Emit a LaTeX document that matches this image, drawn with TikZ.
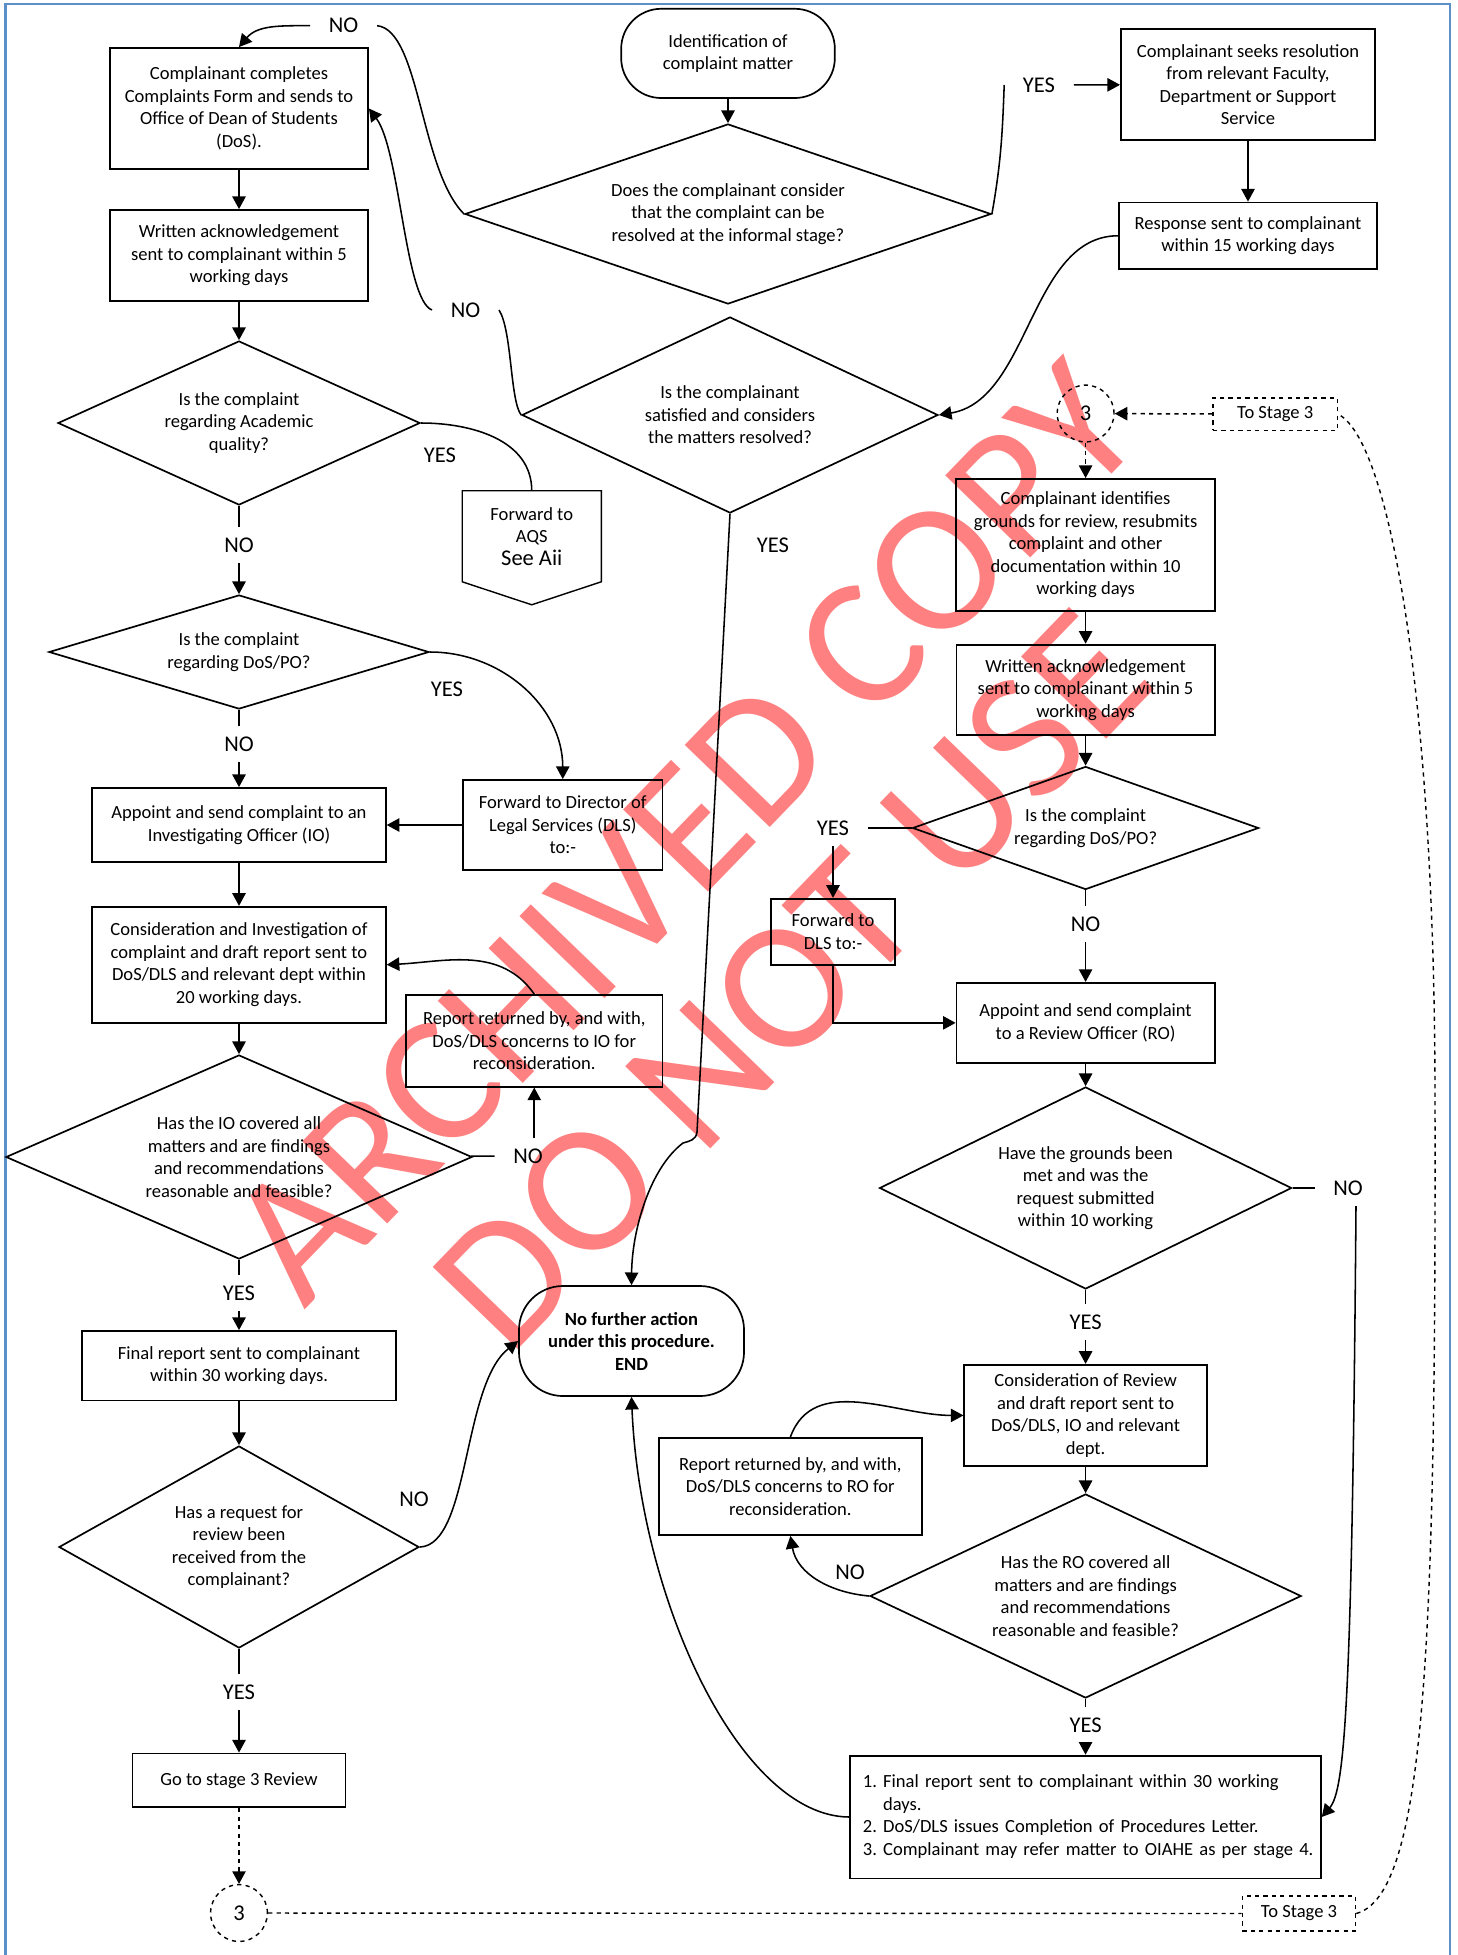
\documentclass[tikz,border=0pt]{standalone}
\usepackage{fontspec}
\setmainfont{Carlito}
\usetikzlibrary{arrows.meta, shapes.geometric}

\definecolor{frameblue}{RGB}{91,143,201}
\definecolor{stamp}{RGB}{255,128,128}

\begin{document}
\begin{tikzpicture}[x=0.025cm, y=-0.025cm,
				>={Triangle[length=9pt,width=9.5pt]},
				line width=1.1pt,
				font=\fontsize{13.2}{16}\selectfont,
				box/.style={draw, line width=1.3pt, align=center, inner sep=0pt},
				dec/.style={draw, shape=diamond, line width=1.2pt, align=center, inner sep=0pt},
				term/.style={draw, line width=1.2pt, align=center, inner sep=0pt, rounded corners=1cm},
				lbl/.style={font=\fontsize{16}{19}\selectfont, inner xsep=0.45cm, inner ysep=0.25cm},
				conn/.style={draw, dashed, circle, line width=1pt, inner sep=0pt, minimum size=1.42cm, font=\fontsize{16}{19}\selectfont},
				stagebox/.style={draw, dashed, line width=1pt, inner sep=0pt}]

				\useasboundingbox (0,0) rectangle (1458,1955);

				\node[text=stamp, rotate=46, font=\fontsize{131}{131}\selectfont] (stamp1) at (684,832) {ARCHIVED COPY};
				\node[text=stamp, rotate=46, font=\fontsize{131}{131}\selectfont] (stamp2) at (792,980) {DO NOT USE};

				\draw[frameblue, line width=1.5pt] (5.5,1955) -- (5.5,4) -- (1450,4) -- (1450,1955);

				\node[term, minimum width=5.34cm, minimum height=2.23cm] (start) at (728,53.4) {Identification of\\complaint matter};
				\node[dec, aspect=2.92, minimum width=13.15cm, minimum height=4.5cm] (informal) at (728,214) {Does the complainant consider\\that the complaint can be\\resolved at the informal stage?};
				\node[box, minimum width=6.35cm, minimum height=2.775cm] (seek) at (1248,84.5) {Complainant seeks resolution\\from relevant Faculty,\\Department or Support\\Service};
				\node[box, minimum width=6.45cm, minimum height=1.66cm] (resp) at (1248,235.75) {Response sent to complainant\\within 15 working days};
				\node[dec, aspect=2.12, minimum width=10.4cm, minimum height=4.9cm] (satisfied) at (730,415) {Is the complainant\\satisfied and considers\\the matters resolved?};

				\node[box, minimum width=6.45cm, minimum height=3.025cm] (form) at (239,108.5) {Complainant completes\\Complaints Form and sends to\\Office of Dean of Students\\(DoS).};
				\node[box, minimum width=6.45cm, minimum height=2.275cm] (ack) at (239,255.5) {Written acknowledgement\\sent to complainant within 5\\working days};
				\node[dec, aspect=2.2, minimum width=9.05cm, minimum height=4.1cm] (academic) at (239,423) {Is the complaint\\regarding Academic\\quality?};
				\node[minimum width=3.4375cm, minimum height=2.2375cm, align=center, inner sep=0pt] (aqs) at (531.75,536.25) {Forward to\\AQS\\{\fontsize{16}{19}\selectfont See Aii}};
				\draw[line width=1pt] (aqs.north west) -- (aqs.north east) -- (aqs.south east) -- ([yshift=-0.575cm]aqs.south) -- (aqs.south west) -- cycle;
				\node[dec, aspect=3.33, minimum width=9.5cm, minimum height=2.85cm] (dospo) at (239,652) {Is the complaint\\regarding DoS/PO?};
				\node[box, minimum width=7.3375cm, minimum height=1.85cm] (appoint) at (239,825) {Appoint and send complaint to an\\Investigating Officer (IO)};
				\node[box, minimum width=4.99cm, minimum height=2.25cm] (dls) at (562.75,825) {Forward to Director of\\Legal Services (DLS)\\to:-};
				\node[box, minimum width=7.3375cm, minimum height=2.9cm] (invest) at (239,964.75) {Consideration and Investigation of\\complaint and draft report sent to\\DoS/DLS and relevant dept within\\20 working days.};
				\node[box, minimum width=6.4125cm, minimum height=2.29cm] (retio) at (534.25,1040.8) {Report returned by, and with,\\DoS/DLS concerns to IO for\\reconsideration.};
				\node[dec, aspect=2.28, minimum width=11.65cm, minimum height=5.1cm] (iocheck) at (239,1157) {Has the IO covered all\\matters and are findings\\and recommendations\\reasonable and feasible?};
				\node[box, minimum width=7.85cm, minimum height=1.7375cm] (final) at (239,1365.75) {Final report sent to complainant\\within 30 working days.};
				\node[dec, aspect=1.78, minimum width=9cm, minimum height=5.05cm] (request) at (239,1547) {Has a request for\\review been\\received from the\\complainant?};
				\node[box, minimum width=5.32cm, minimum height=1.345cm] (gostage) at (239,1780.4) {Go to stage 3 Review};
				\node[conn] (cirl) at (239,1913) {3};
				\node[stagebox, minimum width=2.83cm, minimum height=0.875cm] (stagel) at (1299,1913.5) {To Stage 3};

				\node[term, rounded corners=1.1cm, minimum width=5.625cm, minimum height=2.75cm, font=\fontsize{13.2}{16}\selectfont\bfseries] (stop) at (631.5,1341) {No further action\\under this procedure.\\END};

				\node[conn] (cirr) at (1085.6,413.5) {3};
				\node[stagebox, minimum width=3.11cm, minimum height=0.81cm] (stager) at (1275.2,414.2) {To Stage 3};
				\node[box, minimum width=6.46cm, minimum height=3.3cm] (grounds) at (1085.6,545) {Complainant identifies\\grounds for review, resubmits\\complaint and other\\documentation within 10\\working days};
				\node[box, minimum width=6.45cm, minimum height=2.26cm] (ack2) at (1085.6,689.85) {Written acknowledgement\\sent to complainant within 5\\working days};
				\node[dec, aspect=2.81, minimum width=8.65cm, minimum height=3.075cm] (dospo2) at (1085.6,828) {Is the complaint\\regarding DoS/PO?};
				\node[box, minimum width=3.1cm, minimum height=1.65cm] (dls2) at (833,931.8) {Forward to\\DLS to:-};
				\node[box, minimum width=6.45cm, minimum height=2cm] (appoint2) at (1085.6,1022.85) {Appoint and send complaint\\to a Review Officer (RO)};
				\node[dec, aspect=2.04, minimum width=10.3cm, minimum height=5.05cm] (met) at (1085.6,1188) {Have the grounds been\\met and was the\\request submitted\\within 10 working};
				\node[box, minimum width=6.06cm, minimum height=2.53cm] (consider) at (1085.6,1415.4) {Consideration of Review\\and draft report sent to\\DoS/DLS, IO and relevant\\dept.};
				\node[dec, aspect=2.11, minimum width=10.775cm, minimum height=5.1cm] (rocheck) at (1085.6,1596) {Has the RO covered all\\matters and are findings\\and recommendations\\reasonable and feasible?};
				\node[box, minimum width=6.57cm, minimum height=2.425cm] (retro) at (790.35,1486.5) {Report returned by, and with,\\DoS/DLS concerns to RO for\\reconsideration.};
				\node[box, minimum width=11.77cm, minimum height=3.07cm, text width=11.12cm, align=left, inner xsep=0.325cm] (outcome) at (1085.35,1817) {\begin{tabular}{@{}l@{\ }l@{}}1. & Final report sent to complainant within 30 working\\ & days.\\2. & DoS/DLS issues Completion of Procedures Letter.\\3. & Complainant may refer matter to OIAHE as per stage 4.\end{tabular}};

				\node[lbl] (yes1) at (1039,85) {YES};
				\node[lbl] (no1) at (343.6,25.7) {NO};
				\node[lbl] (no2) at (465.5,310) {NO};
				\node[lbl] (yes2) at (773,545) {YES};
				\node[lbl] (yesa) at (440,455.5) {YES};
				\node[lbl] (noa) at (239,545) {NO};
				\node[lbl] (yesd) at (447,689) {YES};
				\node[lbl] (nod) at (239,744) {NO};
				\node[lbl] (noio) at (528,1156) {NO};
				\node[lbl] (yesio) at (239,1293) {YES};
				\node[lbl] (noreq) at (414,1499) {NO};
				\node[lbl] (yesreq) at (239,1692) {YES};
				\node[lbl] (yesd2) at (833,828) {YES};
				\node[lbl] (nod2) at (1085.6,924) {NO};
				\node[lbl] (nomet) at (1348,1188) {NO};
				\node[lbl] (yesmet) at (1085.6,1322) {YES};
				\node[lbl] (noro) at (850,1572) {NO};
				\node[lbl] (yesro) at (1085.6,1725.5) {YES};

				\draw[->] (start) -- (informal);
				\draw (informal.east) to[out=80,in=-92] (yes1.west);
				\draw[->] (yes1) -- (seek);
				\draw[->] (seek) -- (resp);
				\draw[->] (resp.west) .. controls (1030,236) and (1030,400) .. (satisfied.east);
				\draw (no1.east) .. controls (420,30) and (420,170) .. (informal.west);
				\draw[->] (no1.west) to[out=180,in=50] (form.north);
				\draw (satisfied.west) .. controls (510,400) and (512,330) .. (no2.east);
				\draw[->] (no2.west) .. controls (405,300) and (400,150) .. (form.east);
				\draw[->] (satisfied.south) -- (697,1132) .. controls (696,1140) and (690,1141) .. (683,1143) .. controls (650,1168) and (632,1230) .. (stop.north);

				\draw[->] (form) -- (ack);
				\draw[->] (ack) -- (academic);
				\draw (academic.east) to[out=0,in=90] (aqs.north);
				\draw (academic) -- (noa);
				\draw[->] (noa) -- (dospo);
				\draw[->] (dospo.east) to[out=0,in=90] (dls.north);
				\draw (dospo) -- (nod);
				\draw[->] (nod) -- (appoint);
				\draw[->] (dls) -- (appoint);
				\draw[->] (appoint) -- (invest);
				\draw[->] (invest) -- (iocheck);
				\draw[->] (retio.north) to[out=125,in=3] (invest.east);
				\draw (iocheck) -- (noio);
				\draw[->] (retio.south |- noio.north) -- (retio.south);
				\draw (iocheck) -- (yesio);
				\draw[->] (yesio) -- (final);
				\draw[->] (final) -- (request);
				\draw[->] (request.east) .. controls (470,1545) and (462,1385) .. (stop.west);
				\draw (request) -- (yesreq);
				\draw[->] (yesreq) -- (gostage);
				\draw[dashed, ->] (gostage) -- (cirl);
				\draw[dashed, line width=1pt] (cirl) -- (stagel);
				\draw[dashed, line width=1pt] (stagel.east) .. controls (1425,1895) and (1436,1650) .. (1435,1100) .. controls (1435,700) and (1390,440) .. (stager.east);

				\draw[dashed, ->] (stager) -- (cirr);
				\draw[dashed, ->] (cirr) -- (grounds);
				\draw[->] (grounds) -- (ack2);
				\draw[->] (ack2) -- (dospo2);
				\draw (dospo2) -- (yesd2);
				\draw[->] (yesd2) -- (dls2);
				\draw[->] (dls2.south) |- (appoint2.west);
				\draw (dospo2) -- (nod2);
				\draw[->] (nod2) -- (appoint2);
				\draw[->] (appoint2) -- (met);
				\draw (met) -- (nomet);
				\draw[->] ([xshift=0.2cm]nomet.south) .. controls (1352,1700) and (1345,1790) .. (outcome.east);
				\draw (met) -- (yesmet);
				\draw[->] (yesmet) -- (consider);
				\draw[->] (consider) -- (rocheck);
				\draw[->] (rocheck.west) to[out=175,in=-80] (retro.south);
				\draw[->] (retro.north) to[out=70,in=180] (consider.west);
				\draw (rocheck) -- (yesro);
				\draw[->] (yesro) -- (outcome);
				\draw[->] (outcome.west) .. controls (740,1816) and (640,1600) .. (stop.south);
			\end{tikzpicture}
\end{document}
